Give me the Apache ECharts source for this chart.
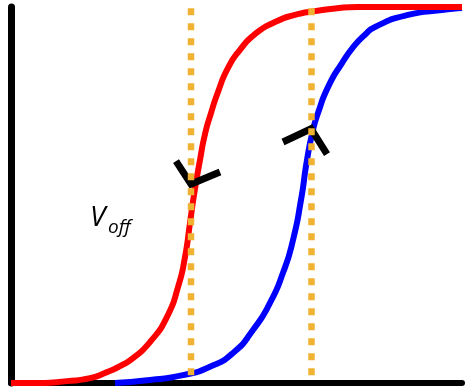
<!DOCTYPE html>
<html>
<head>
<meta charset="utf-8">
<script src="https://cdn.jsdelivr.net/npm/echarts@6/dist/echarts.min.js"></script>
<style>
  html, body { margin: 0; padding: 0; background: #fff; }
  #chart { width: 465px; height: 389px; }
</style>
</head>
<body>
<div id="chart"></div>
<script>
// Transfer curves: gate voltage (arbitrary units) vs normalised current (%)
const redCurve = [
  [0, 0], [29, 0], [56, 0.5], [79, 1.3], [96, 2.9], [109, 4.5], [122, 6.6],
  [139, 10.9], [156, 17.6], [167, 25.5], [174, 33.5], [179, 42.6], [183, 50.0],
  [189, 59.3], [194, 66.2], [200, 71.8], [207, 77.4], [217, 83.8], [229, 88.6],
  [244, 92.8], [264, 96.0], [284, 97.9], [304, 98.9], [324, 99.6], [347, 100], [451, 100]
];
const blueCurve = [
  [104, 0], [139, 0.8], [172, 2.1], [199, 4.3], [222, 8.0], [242, 14.1],
  [259, 21.3], [272, 29.3], [282, 38.0], [290, 48.7], [296, 59.3], [302, 67.3],
  [307, 71.8], [317, 78.7], [331, 85.1], [344, 89.9], [354, 92.6], [364, 94.7],
  [397, 97.9], [431, 99.2], [451, 99.7]
];
// Threshold positions (dotted guides)
const thresholdX = [180, 300.5];
const guideSpan = [1.9, 99.7];
// Angle marks at the threshold points
const redMark = [[165, 59.0], [180, 52.9], [209, 56.1]];
const blueMark = [[272, 64.1], [300, 67.6], [316, 60.9]];
// Annotation text
const labelMain = 'V';
const labelSub = 'off';

const chart = echarts.init(document.getElementById('chart'), null, { renderer: 'canvas' });

const guideSeries = thresholdX.map(x => ({
  type: 'line',
  data: [[x, guideSpan[1]], [x, guideSpan[0]]],
  symbol: 'none',
  silent: true,
  z: 5,
  lineStyle: { color: '#F0B232', width: 6.5, type: [7, 8], cap: 'butt' }
}));

const markSeries = [redMark, blueMark].map(pts => ({
  type: 'line',
  data: pts,
  symbol: 'none',
  silent: true,
  z: 4,
  lineStyle: { color: '#000', width: 7, join: 'miter', cap: 'butt' }
}));

chart.setOption({
  animation: false,
  backgroundColor: '#fff',
  grid: { left: 11, right: 3, top: 7, bottom: 6 },
  xAxis: {
    type: 'value', min: 0, max: 451,
    axisLine: { show: true, onZero: false, lineStyle: { color: '#000', width: 6 } },
    axisTick: { show: false }, axisLabel: { show: false }, splitLine: { show: false }
  },
  yAxis: {
    type: 'value', min: 0, max: 100,
    axisLine: { show: true, onZero: false, lineStyle: { color: '#000', width: 7 } },
    axisTick: { show: false }, axisLabel: { show: false }, splitLine: { show: false }
  },
  series: [
    {
      type: 'line', data: blueCurve, symbol: 'none', smooth: 0.6, z: 2,
      lineStyle: { color: '#0000FF', width: 6 }
    },
    {
      type: 'line', data: redCurve, symbol: 'none', smooth: 0.6, z: 3,
      lineStyle: { color: '#FF0000', width: 6 }
    },
    ...markSeries,
    ...guideSeries
  ],
  graphic: [
    {
      type: 'text', left: 90, top: 204, z: 10,
      style: { text: labelMain, font: 'italic 28px "Open Sans", sans-serif', fill: '#000' }
    },
    {
      type: 'text', left: 108, top: 218, z: 10,
      style: { text: labelSub, font: 'italic 19px "Open Sans", sans-serif', fill: '#000' }
    }
  ]
});
</script>
</body>
</html>
